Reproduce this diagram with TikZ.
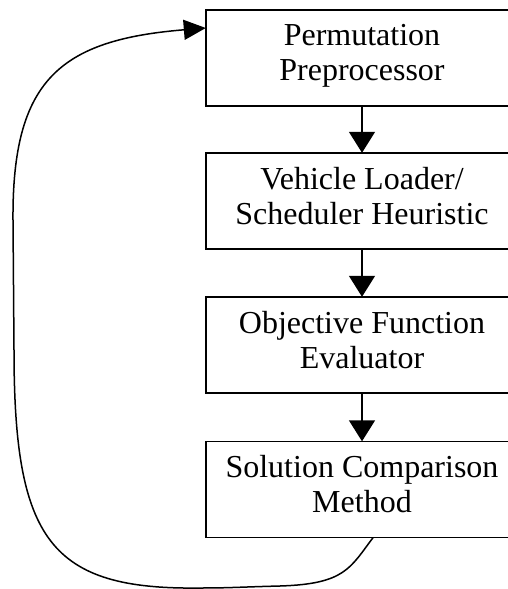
\documentclass[tikz,border=0pt]{standalone}
\usepackage{fontspec}
\setmainfont{Liberation Serif}
\usetikzlibrary{arrows.meta}

\begin{document}
\begin{tikzpicture}[x=1pt,y=-1pt,
  block/.style={minimum width=312pt,minimum height=96pt,align=center,
    font=\fontsize{32}{35}\selectfont,execute at begin node=\strut,execute at end node=\strut},
  flow/.style={line width=1.5pt,-{Triangle[length=21pt,width=26pt]}}]
\useasboundingbox (0,0) rectangle (508,589);
\node[block] (perm) at (362,58) {Permutation\\Preprocessor};
\node[block] (load) at (362,201) {Vehicle Loader/\\Scheduler Heuristic};
\node[block] (eval) at (362,345) {Objective Function\\Evaluator};
\node[block] (comp) at (362,489.5) {Solution Comparison\\Method};
% boxes run off the right edge
\foreach \n in {perm,load,eval,comp}
  \draw[line width=1.5pt] (\n.north west) rectangle ([xshift=40pt]\n.south east);
\draw[flow] (perm) -- (load);
\draw[flow] (load) -- (eval);
\draw[flow] (eval) -- (comp);
% loop back to the top
\draw[line width=1.5pt,-{Triangle[length=22pt,width=20pt]}] ([xshift=11pt]comp.south)
  .. controls (350,568) and (345,584) .. (280,586)
  .. controls (240,587) and (230,588) .. (200,588)
  .. controls (50,590) and (14,540) .. (14,350)
  -- (13,220)
  .. controls (12,80) and (60,40) .. ([yshift=30pt]perm.west);
\end{tikzpicture}
\end{document}
